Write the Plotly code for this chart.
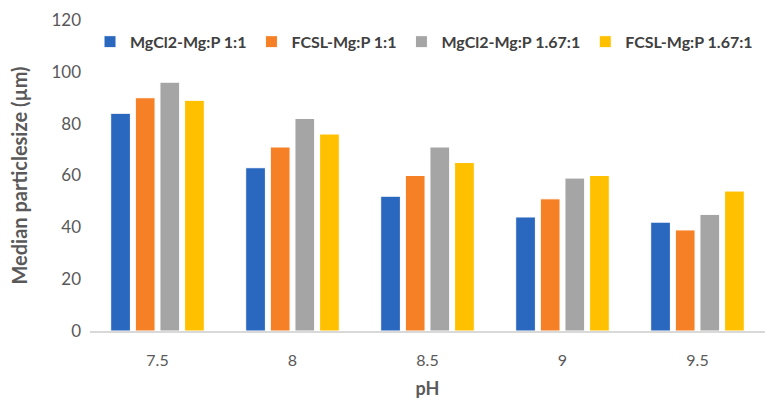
import plotly.graph_objects as go

categories = ["7.5", "8", "8.5", "9", "9.5"]
series_names = ["MgCl2-Mg:P 1:1", "FCSL-Mg:P 1:1", "MgCl2-Mg:P 1.67:1", "FCSL-Mg:P 1.67:1"]
mgcl2_1 = [84, 63, 52, 44, 42]
fcsl_1 = [90, 71, 60, 51, 39]
mgcl2_167 = [96, 82, 71, 59, 45]
fcsl_167 = [89, 76, 65, 60, 54]
colors = ["#2A67BE", "#F58025", "#A5A5A5", "#FFC000"]

fig = go.Figure()
for name, vals, c in zip(series_names, [mgcl2_1, fcsl_1, mgcl2_167, fcsl_167], colors):
    fig.add_trace(go.Bar(x=categories, y=vals, name=name,
                         marker=dict(color=c, line=dict(color="white", width=1))))

font = "Lato, Open Sans, sans-serif"
fig.update_layout(
    width=769, height=401,
    margin=dict(l=90, r=4, t=20, b=70),
    plot_bgcolor="white", paper_bgcolor="white",
    barmode="group", bargap=0.27, bargroupgap=0.2,
    font=dict(family=font, color="#595959", size=16),
    legend=dict(orientation="h", x=0.0, y=0.93, xanchor="left", yanchor="middle",
                font=dict(size=16, color="#404040", weight="bold"), itemwidth=30,
                tracegroupgap=0, bgcolor="rgba(0,0,0,0)"),
    xaxis=dict(title=dict(text="<b>pH</b>", font=dict(size=18, color="#595959"), standoff=14),
               showline=True, linecolor="#D9D9D9", linewidth=2, ticks="",
               tickfont=dict(size=16, color="#595959"), ticklabelstandoff=14),
    yaxis=dict(title=dict(text="<b>Median particlesize (µm)</b>", font=dict(size=20, color="#595959"), standoff=18),
               range=[0, 120], dtick=20, showgrid=False, zeroline=False,
               tickfont=dict(size=17, color="#595959"), ticks="", ticklabelstandoff=8),
)
fig.write_html("out.html")
